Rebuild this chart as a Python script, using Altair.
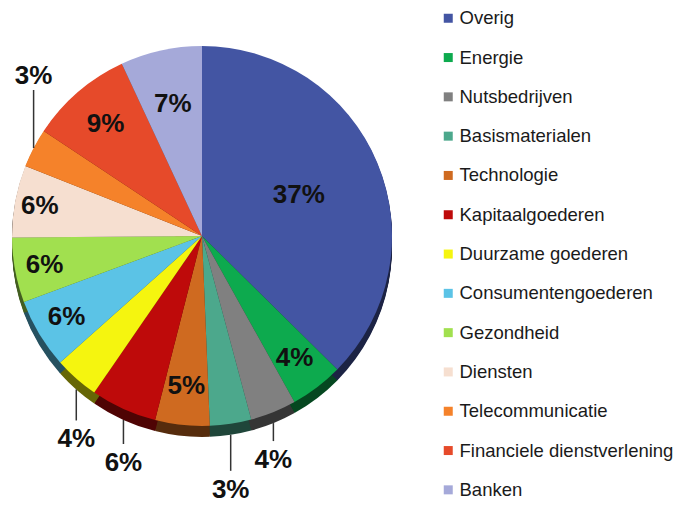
import altair as alt
import pandas as pd

categories = ["Overig", "Energie", "Nutsbedrijven", "Basismaterialen", "Technologie",
              "Kapitaalgoederen", "Duurzame goederen", "Consumentengoederen", "Gezondheid",
              "Diensten", "Telecommunicatie", "Financiele dienstverlening", "Banken"]
values = [37.2, 4.5, 3.9, 3.5, 4.6, 5.6, 3.8, 5.9, 5.5, 6.1, 3.3, 8.7, 6.9]
labels = ["37%", "4%", "4%", "3%", "5%", "6%", "4%", "6%", "6%", "6%", "3%", "9%", "7%"]

# styles
colors = ["#4355A3", "#0DAA4E", "#808080", "#4CA88C", "#CF6A20", "#BE0A0A", "#F5F50F",
          "#5BC3E6", "#A1E04F", "#F6DFD0", "#F5822A", "#E64A2A", "#A5A9D9"]
label_r = [105, 153, 0, 0, 151, 0, 0, 158, 160, 165, 0, 148, 135]
leader_len = [0, 0, 18, 36, 0, 24, 31, 0, 0, 0, -58, 0, 0]

CX, CY, R, DEPTH = 194, 228, 190, 11


def darken(h, f=0.42):
    r, g, b = int(h[1:3], 16), int(h[3:5], 16), int(h[5:7], 16)
    return "#%02x%02x%02x" % (int(r * f), int(g * f), int(b * f))


dark = [darken(c) for c in colors]

df = pd.DataFrame({
    "idx": list(range(len(categories))),
    "category": categories,
    "value": values,
    "label": labels,
    "lr": label_r,
    "leader": leader_len,
})

base = alt.Chart(df)

shadows = []
for d in range(1, DEPTH + 1):
    shadows.append(
        base.mark_arc(radius=R).encode(
            theta=alt.Theta("value:Q", stack=True),
            order=alt.Order("idx:Q"),
            fill=alt.Fill("idx:O", scale=alt.Scale(domain=list(range(len(categories))), range=dark),
                          legend=None),
            x=alt.value(CX),
            y=alt.value(CY + d),
        )
    )

pie = base.mark_arc(radius=R).encode(
    theta=alt.Theta("value:Q", stack=True),
    order=alt.Order("idx:Q"),
    color=alt.Color(
        "category:N",
        scale=alt.Scale(domain=categories, range=colors),
        sort=categories,
        legend=alt.Legend(
            title=None, orient="none", legendX=431, legendY=1,
            symbolType="square", symbolSize=81, symbolStrokeWidth=0,
            labelFont="Liberation Sans", labelFontSize=18.5, labelColor="#1a1a1a",
            labelOffset=2, rowPadding=20.3, labelLimit=300, padding=0,
        ),
    ),
    x=alt.value(CX),
    y=alt.value(CY),
)

calc = base.transform_window(
    cum="sum(value)", sort=[alt.SortField("idx")]
).transform_joinaggregate(
    total="sum(value)"
).transform_calculate(
    mid="2*PI*(datum.cum - datum.value/2)/datum.total"
).transform_calculate(
    ex=f"{CX} + {R}*sin(datum.mid)",
    ey=f"{CY} - {R}*cos(datum.mid)",
    lx=f"{CX} + datum.lr*sin(datum.mid)",
    ly=f"{CY} - datum.lr*cos(datum.mid)",
).transform_calculate(
    ys=f"datum.ey + (datum.leader > 0 ? {DEPTH} : 0)",
).transform_calculate(
    ye="datum.ys + datum.leader",
).transform_calculate(
    ty="datum.ye + (datum.leader > 0 ? 19 : -14)",
)

inside = calc.transform_filter("datum.lr > 0").mark_text(
    font="Liberation Sans", fontWeight="bold", fontSize=26, color="#111111",
    align="center", baseline="middle",
).encode(
    x=alt.X("lx:Q", scale=None),
    y=alt.Y("ly:Q", scale=None),
    text="label:N",
)

leaders = calc.transform_filter("datum.leader != 0").mark_rule(
    color="#333333", strokeWidth=1.5
).encode(
    x=alt.X("ex:Q", scale=None),
    y=alt.Y("ys:Q", scale=None),
    y2="ye:Q",
)

outside = calc.transform_filter("datum.leader != 0").mark_text(
    font="Liberation Sans", fontWeight="bold", fontSize=26, color="#111111",
    align="center", baseline="middle",
).encode(
    x=alt.X("ex:Q", scale=None),
    y=alt.Y("ty:Q", scale=None),
    text="label:N",
)

chart = alt.layer(*shadows, pie, inside, leaders, outside).properties(
    width=671, height=496,
    autosize=alt.AutoSizeParams(type="none"),
    padding=0,
).configure_view(stroke=None)

chart.save("out.html", embed_options={"renderer": "svg", "actions": False})
